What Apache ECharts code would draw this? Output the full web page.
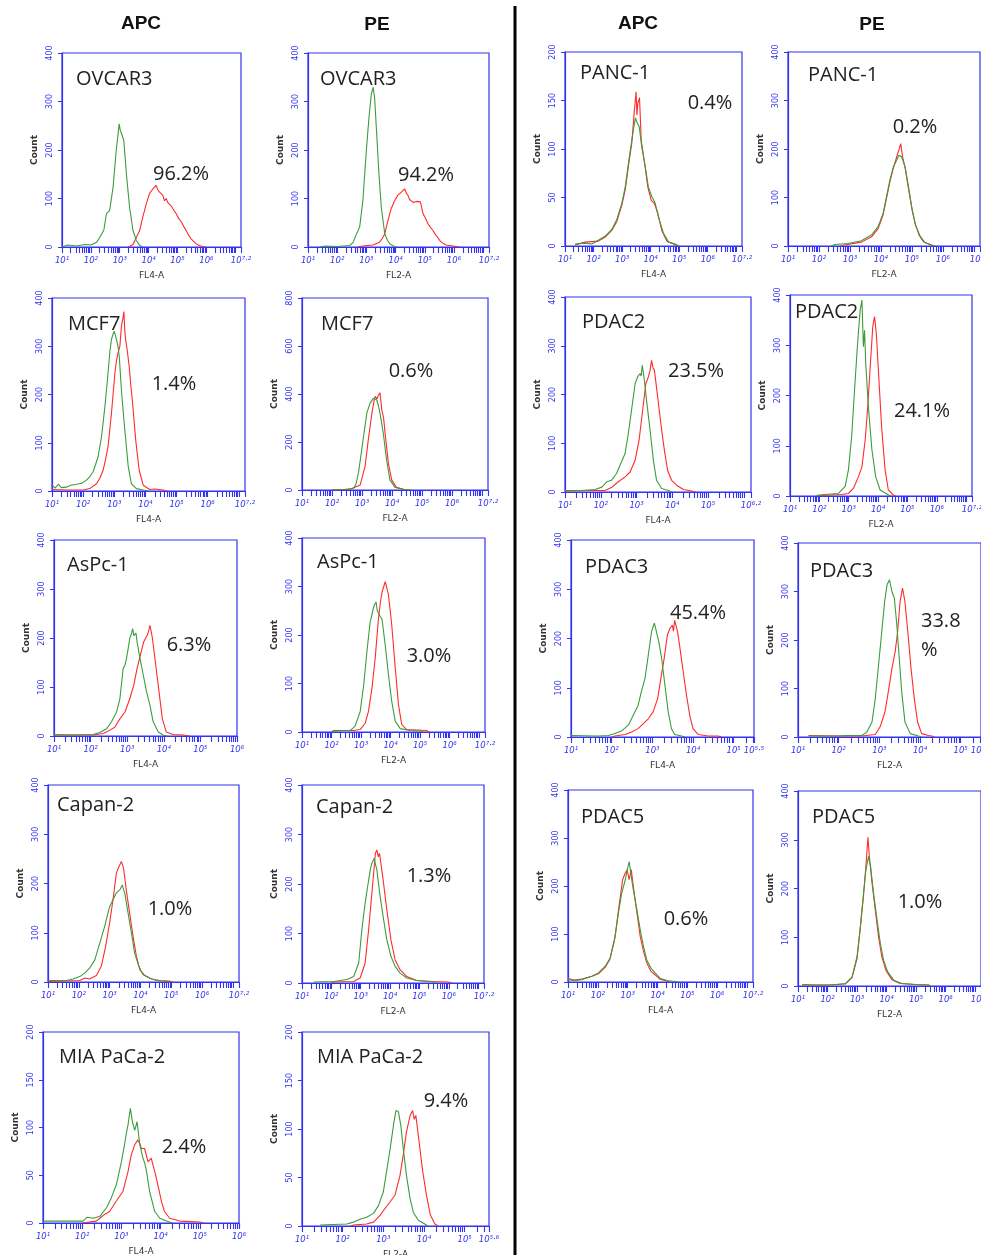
<!DOCTYPE html>
<html>
<head>
<meta charset="utf-8">
<script src="https://cdn.jsdelivr.net/npm/echarts@6/dist/echarts.min.js"></script>
<style>
html,body{margin:0;padding:0;background:#fff;}
#chart{width:981px;height:1255px;}
</style>
</head>
<body>
<div id="chart"></div>
<script>
// ---------------- DATA (x = log10 fluorescence, y = count) ----------------
const ovcar3ApcGreen = [[1.0,0],[1.2,4],[1.5,2],[1.8,5],[2.0,4],[2.2,10],[2.31,20],[2.45,35],[2.54,69],[2.65,75],[2.77,124],[2.88,200],[2.98,254],[3.02,240],[3.06,234],[3.14,220],[3.23,151],[3.34,82],[3.46,34],[3.57,14],[3.69,3],[3.8,0]];
const ovcar3ApcRed = [[3.3,0],[3.46,5],[3.57,19],[3.69,34],[3.8,62],[3.92,89],[4.03,110],[4.15,120],[4.2,116],[4.26,127],[4.32,118],[4.38,113],[4.44,110],[4.49,107],[4.55,95],[4.61,100],[4.66,92],[4.72,96],[4.78,85],[4.84,79],[4.95,69],[5.05,58],[5.13,52],[5.22,42],[5.3,34],[5.38,25],[5.47,17],[5.55,12],[5.64,7],[5.75,3],[5.87,1],[6.0,0]];
const ovcar3PeGreen = [[1.4,0],[1.6,2],[2.0,1],[2.43,3],[2.55,10],[2.66,27],[2.77,41],[2.88,96],[3.0,200],[3.09,268],[3.17,316],[3.23,329],[3.28,309],[3.34,247],[3.43,151],[3.51,82],[3.63,27],[3.72,14],[3.8,7],[3.92,2],[4.03,0]];
const ovcar3PeRed = [[2.7,0],[2.88,2],[3.23,4],[3.45,10],[3.55,18],[3.63,27],[3.74,55],[3.85,79],[3.97,96],[4.08,107],[4.14,104],[4.2,113],[4.26,110],[4.31,120],[4.36,112],[4.42,107],[4.48,98],[4.54,100],[4.6,92],[4.65,89],[4.71,94],[4.77,96],[4.85,93],[4.94,69],[5.02,60],[5.11,48],[5.2,40],[5.28,34],[5.36,26],[5.45,19],[5.53,12],[5.62,8],[5.73,4],[5.85,3],[6.08,1],[6.2,0]];

const mcf7ApcGreen = [[1.0,12],[1.1,6],[1.2,14],[1.3,7],[1.46,8],[1.6,12],[1.78,14],[1.95,16],[2.1,22],[2.22,30],[2.32,40],[2.4,55],[2.48,71],[2.59,112],[2.7,175],[2.8,244],[2.86,290],[2.91,314],[2.96,325],[3.0,331],[3.04,322],[3.07,318],[3.12,300],[3.16,279],[3.23,210],[3.28,170],[3.34,126],[3.4,85],[3.45,50],[3.55,15],[3.71,5],[3.93,2],[4.1,0]];
const mcf7ApcRed = [[1.0,3],[1.5,2],[2.0,2],[2.21,5],[2.43,15],[2.55,28],[2.64,43],[2.72,65],[2.8,92],[2.91,161],[3.02,244],[3.07,270],[3.12,286],[3.18,300],[3.23,341],[3.27,355],[3.31,372],[3.34,330],[3.37,312],[3.42,290],[3.48,258],[3.53,220],[3.59,182],[3.69,105],[3.8,43],[3.93,12],[4.14,3],[4.3,4],[4.57,2],[4.7,0]];
const mcf7PeGreen = [[2.0,0],[2.05,3],[2.4,2],[2.72,7],[2.8,25],[2.88,70],[2.96,140],[3.05,222],[3.16,320],[3.27,362],[3.33,370],[3.38,382],[3.44,375],[3.49,376],[3.55,350],[3.6,320],[3.71,236],[3.82,125],[3.93,42],[4.1,11],[4.38,3],[4.65,0]];
const mcf7PeRed = [[2.0,0],[2.05,2],[2.6,3],[2.94,21],[3.1,97],[3.21,209],[3.33,320],[3.4,370],[3.44,390],[3.5,380],[3.55,396],[3.6,405],[3.66,334],[3.72,300],[3.77,236],[3.88,111],[3.99,42],[4.15,11],[4.38,3],[4.55,0]];

const aspc1ApcGreen = [[1.0,3],[1.5,2],[2.07,3],[2.25,7],[2.44,15],[2.57,29],[2.71,49],[2.8,76],[2.85,110],[2.89,138],[2.94,145],[2.98,158],[3.03,180],[3.07,199],[3.12,210],[3.15,219],[3.18,205],[3.21,202],[3.24,210],[3.27,192],[3.35,158],[3.44,124],[3.53,90],[3.62,63],[3.71,29],[3.85,8],[3.98,2],[4.1,0]];
const aspc1ApcRed = [[1.0,2],[1.8,2],[2.07,2],[2.35,5],[2.53,12],[2.66,18],[2.8,35],[2.94,49],[3.07,76],[3.18,104],[3.27,138],[3.36,165],[3.45,192],[3.55,206],[3.59,215],[3.62,226],[3.66,212],[3.69,199],[3.78,145],[3.87,90],[3.96,35],[4.07,8],[4.25,3],[4.53,2],[4.7,0]];
const aspc1PeGreen = [[2.0,0],[2.07,2],[2.63,3],[2.8,12],[2.97,42],[3.09,97],[3.2,166],[3.31,227],[3.36,240],[3.4,251],[3.45,262],[3.51,268],[3.55,250],[3.6,247],[3.65,238],[3.71,233],[3.82,179],[3.93,118],[4.04,63],[4.16,22],[4.33,7],[4.66,3],[5.0,2],[5.1,0]];
const aspc1PeRed = [[2.0,0],[2.07,3],[2.75,3],[2.97,5],[3.14,18],[3.25,42],[3.37,90],[3.48,152],[3.59,234],[3.65,265],[3.71,288],[3.77,300],[3.82,310],[3.87,298],[3.93,282],[3.98,255],[4.04,221],[4.16,132],[4.27,56],[4.38,15],[4.55,5],[5.22,3],[5.3,0]];

const capan2ApcGreen = [[1.0,3],[1.3,3],[1.6,3],[1.81,6],[2.03,11],[2.19,18],[2.35,28],[2.52,45],[2.68,79],[2.84,113],[3.0,153],[3.11,167],[3.22,181],[3.28,178],[3.33,187],[3.41,197],[3.45,188],[3.49,181],[3.6,140],[3.71,99],[3.81,59],[3.95,32],[4.08,15],[4.3,8],[4.52,3],[4.84,1],[5.0,0]];
const capan2ApcRed = [[1.05,1],[1.6,2],[2.03,3],[2.2,8],[2.35,6],[2.57,13],[2.73,32],[2.87,72],[3.0,120],[3.11,167],[3.22,221],[3.3,234],[3.35,240],[3.38,245],[3.42,238],[3.46,228],[3.54,187],[3.65,140],[3.76,93],[3.87,52],[3.98,25],[4.14,13],[4.36,6],[4.63,3],[4.95,2],[5.05,0]];
const capan2PeGreen = [[1.4,2],[2.08,3],[2.53,7],[2.76,13],[2.93,40],[3.04,108],[3.15,161],[3.27,208],[3.33,230],[3.38,242],[3.46,252],[3.5,240],[3.55,229],[3.66,175],[3.78,128],[3.89,87],[4.03,54],[4.17,34],[4.34,20],[4.57,10],[4.91,5],[5.48,2],[5.6,0]];
const capan2PeRed = [[2.0,0],[2.08,2],[2.76,3],[2.98,10],[3.15,40],[3.27,108],[3.38,181],[3.46,235],[3.5,262],[3.55,269],[3.6,255],[3.64,262],[3.75,215],[3.89,148],[4.03,87],[4.17,47],[4.34,27],[4.57,13],[4.91,5],[5.48,3],[5.99,2],[6.1,0]];

const miaApcGreen = [[1.0,2],[1.5,2],[2.02,2],[2.12,6],[2.28,5],[2.45,7],[2.62,16],[2.74,26],[2.87,40],[3.0,64],[3.08,82],[3.13,95],[3.17,103],[3.2,112],[3.23,120],[3.28,106],[3.34,97],[3.4,106],[3.47,82],[3.55,68],[3.6,62],[3.64,54],[3.72,33],[3.85,12],[3.98,5],[4.15,2],[4.3,0]];
const miaApcRed = [[2.0,0],[2.02,1],[2.36,2],[2.45,5],[2.57,9],[2.7,12],[2.87,23],[3.04,33],[3.17,54],[3.25,71],[3.34,82],[3.38,80],[3.42,87],[3.47,83],[3.51,78],[3.59,78],[3.68,64],[3.76,68],[3.85,54],[3.93,40],[4.02,23],[4.1,12],[4.23,5],[4.49,2],[5.0,1],[5.1,0]];
const miaPeGreen = [[1.45,1],[2.1,2],[2.27,4],[2.43,7],[2.59,9],[2.76,13],[2.88,21],[3.0,35],[3.08,56],[3.17,80],[3.25,104],[3.31,119],[3.37,118],[3.43,104],[3.49,80],[3.57,52],[3.66,28],[3.74,14],[3.86,6],[4.02,2],[4.1,0]];
const miaPeRed = [[2.2,0],[2.27,1],[2.59,2],[2.76,4],[2.92,11],[3.04,18],[3.17,25],[3.29,32],[3.41,52],[3.49,73],[3.57,97],[3.66,114],[3.72,119],[3.76,110],[3.8,114],[3.88,87],[3.97,56],[4.06,32],[4.16,11],[4.27,2],[4.35,0]];

const panc1ApcGreen = [[1.35,2],[1.7,3],[1.94,2],[2.17,6],[2.4,10],[2.64,17],[2.81,27],[2.99,44],[3.11,61],[3.22,85],[3.34,109],[3.43,126],[3.47,132],[3.51,128],[3.56,130],[3.6,123],[3.69,102],[3.81,82],[3.92,61],[4.04,51],[4.16,44],[4.27,30],[4.45,13],[4.63,4],[4.86,2],[5.0,0]];
const panc1ApcRed = [[1.35,1],[1.7,4],[2.17,5],[2.4,9],[2.64,16],[2.81,25],[2.99,42],[3.11,58],[3.22,82],[3.34,106],[3.43,140],[3.49,159],[3.52,135],[3.55,147],[3.61,153],[3.67,109],[3.79,85],[3.9,61],[4.02,47],[4.13,44],[4.25,34],[4.39,16],[4.57,5],[4.8,2],[4.95,0]];
const panc1PeGreen = [[2.4,0],[2.51,3],[2.94,5],[3.37,11],[3.7,23],[3.91,40],[4.07,67],[4.18,102],[4.29,136],[4.4,163],[4.51,177],[4.58,187],[4.67,184],[4.78,163],[4.88,122],[4.99,81],[5.1,47],[5.23,23],[5.37,9],[5.58,3],[5.7,0]];
const panc1PeRed = [[2.7,0],[2.83,2],[3.37,8],[3.7,19],[3.91,36],[4.07,64],[4.18,98],[4.29,132],[4.4,160],[4.51,184],[4.58,198],[4.64,211],[4.7,184],[4.8,156],[4.91,115],[5.01,74],[5.12,43],[5.26,21],[5.42,7],[5.64,2],[5.75,0]];

const pdac2ApcGreen = [[1.0,3],[1.47,3],[1.84,5],[2.03,10],[2.17,21],[2.3,24],[2.44,38],[2.58,62],[2.68,79],[2.77,120],[2.86,168],[2.96,222],[3.03,236],[3.1,243],[3.13,238],[3.16,260],[3.22,229],[3.28,188],[3.38,126],[3.47,65],[3.56,24],[3.7,7],[3.89,3],[4.0,0]];
const pdac2ApcRed = [[1.0,2],[1.75,3],[2.12,3],[2.3,9],[2.49,21],[2.68,31],[2.82,41],[2.96,65],[3.07,106],[3.16,161],[3.26,222],[3.33,236],[3.38,250],[3.42,270],[3.46,255],[3.5,250],[3.59,195],[3.68,140],[3.78,85],[3.87,44],[3.98,24],[4.12,14],[4.31,5],[4.54,2],[4.65,0]];
const pdac2PeGreen = [[1.9,0],[1.97,2],[2.65,5],[2.88,19],[2.99,52],[3.1,118],[3.22,231],[3.31,310],[3.39,370],[3.45,390],[3.5,297],[3.54,330],[3.58,264],[3.67,178],[3.79,92],[3.92,38],[4.07,12],[4.36,2],[4.45,0]];
const pdac2PeRed = [[2.0,0],[2.08,1],[2.76,3],[2.99,5],[3.16,15],[3.33,38],[3.45,58],[3.56,111],[3.65,178],[3.74,264],[3.82,337],[3.88,357],[3.94,324],[4.03,231],[4.12,138],[4.24,52],[4.35,12],[4.52,2],[4.6,0]];

const pdac3ApcGreen = [[1.0,3],[1.67,2],[1.92,3],[2.08,7],[2.24,12],[2.41,24],[2.53,44],[2.65,64],[2.73,92],[2.82,119],[2.9,166],[2.98,214],[3.05,231],[3.1,214],[3.16,193],[3.23,159],[3.31,105],[3.39,51],[3.47,17],[3.55,5],[3.72,2],[3.8,0]];
const pdac3ApcRed = [[2.0,0],[2.08,2],[2.33,5],[2.49,10],[2.65,17],[2.78,27],[2.9,37],[3.02,51],[3.13,78],[3.21,119],[3.29,159],[3.37,207],[3.43,220],[3.49,227],[3.52,215],[3.55,237],[3.62,214],[3.67,186],[3.76,132],[3.84,85],[3.92,44],[4.0,17],[4.13,5],[4.37,2],[4.62,2],[4.7,0]];
const pdac3PeGreen = [[1.26,2],[1.92,2],[2.24,3],[2.57,3],[2.69,10],[2.82,31],[2.9,79],[2.98,148],[3.06,217],[3.13,279],[3.19,314],[3.25,324],[3.31,300],[3.37,286],[3.43,231],[3.49,162],[3.55,93],[3.63,31],[3.76,7],[3.96,2],[4.05,0]];
const pdac3PeRed = [[1.26,3],[1.92,2],[2.57,2],[2.9,5],[3.02,21],[3.14,52],[3.22,93],[3.31,141],[3.39,176],[3.45,217],[3.51,279],[3.57,307],[3.63,279],[3.7,217],[3.78,141],[3.86,79],[3.94,31],[4.04,7],[4.21,3],[4.29,2],[4.35,0]];

const pdac5ApcGreen = [[1.0,5],[1.2,3],[1.47,5],[1.8,12],[2.02,19],[2.25,33],[2.41,50],[2.56,88],[2.69,144],[2.8,185],[2.92,213],[2.99,234],[3.05,251],[3.12,220],[3.19,192],[3.31,150],[3.42,109],[3.53,74],[3.64,46],[3.78,29],[3.92,19],[4.08,8],[4.31,3],[4.59,1],[4.7,0]];
const pdac5ApcRed = [[1.0,7],[1.2,4],[1.47,6],[1.8,12],[2.02,17],[2.25,31],[2.41,48],[2.58,95],[2.71,158],[2.83,213],[2.92,227],[2.98,234],[3.05,213],[3.12,234],[3.19,199],[3.31,144],[3.42,95],[3.53,64],[3.64,40],[3.78,22],[3.92,15],[4.08,6],[4.31,2],[4.4,0]];
const pdac5PeGreen = [[1.14,3],[1.6,2],[2.15,2],[2.6,5],[2.83,18],[3.0,60],[3.11,121],[3.22,190],[3.3,238],[3.39,266],[3.46,245],[3.56,190],[3.68,135],[3.79,87],[3.9,53],[4.04,29],[4.24,12],[4.52,5],[4.97,3],[5.42,2],[5.5,0]];
const pdac5PeRed = [[1.14,2],[2.0,2],[2.6,4],[2.83,17],[3.0,56],[3.11,118],[3.22,186],[3.3,245],[3.37,305],[3.42,264],[3.5,216],[3.62,155],[3.73,100],[3.84,60],[3.98,32],[4.18,13],[4.46,5],[4.97,3],[5.42,2],[5.5,0]];

// tick label exponents
const ticks72 = [1,2,3,4,5,6,7.2];
const ticks6  = [1,2,3,4,5,6];
const ticks62 = [1,2,3,4,5,6.2];
const ticks56 = [1,2,3,4,5,5.6];
const ticks55 = [1,2,3,4,5,5.5];

const cellNames = ['OVCAR3','OVCAR3','MCF7','MCF7','AsPc-1','AsPc-1','Capan-2','Capan-2','MIA PaCa-2','MIA PaCa-2',
  'PANC-1','PANC-1','PDAC2','PDAC2','PDAC3','PDAC3','PDAC5','PDAC5'];
const percents = ['96.2%','94.2%','1.4%','0.6%','6.3%','3.0%','1.0%','1.3%','2.4%','9.4%',
  '0.4%','0.2%','23.5%','24.1%','45.4%','33.8\n%','0.6%','1.0%'];
const yMaxes = [400,400,400,800,400,400,400,400,200,200, 200,400,400,400,400,400,400,400];
const xTickSets = [ticks72,ticks72,ticks72,ticks72,ticks6,ticks72,ticks72,ticks72,ticks6,ticks56,
  ticks72,ticks72,ticks62,ticks72,ticks55,ticks55,ticks72,ticks72];
const greens = [ovcar3ApcGreen,ovcar3PeGreen,mcf7ApcGreen,mcf7PeGreen,aspc1ApcGreen,aspc1PeGreen,capan2ApcGreen,capan2PeGreen,miaApcGreen,miaPeGreen,
  panc1ApcGreen,panc1PeGreen,pdac2ApcGreen,pdac2PeGreen,pdac3ApcGreen,pdac3PeGreen,pdac5ApcGreen,pdac5PeGreen];
const reds = [ovcar3ApcRed,ovcar3PeRed,mcf7ApcRed,mcf7PeRed,aspc1ApcRed,aspc1PeRed,capan2ApcRed,capan2PeRed,miaApcRed,miaPeRed,
  panc1ApcRed,panc1PeRed,pdac2ApcRed,pdac2PeRed,pdac3ApcRed,pdac3PeRed,pdac5ApcRed,pdac5PeRed];

// ---------------- LAYOUT ----------------
// plot box [left, top, right, bottom], name label pos [x,y], percent label pos [x,y]
const layout = [
  {box:[62,53,241,247],   nm:[76,79],   pc:[181,174]},
  {box:[308,53,489,247],  nm:[320,79],  pc:[426,175]},
  {box:[52,298,245,491],  nm:[68,324],  pc:[174,384]},
  {box:[302,298,488,490], nm:[321,324], pc:[411,371]},
  {box:[54,540,237,736],  nm:[67,565],  pc:[189,645]},
  {box:[302,538,485,732], nm:[317,562], pc:[429,656]},
  {box:[48,785,239,982],  nm:[57,805],  pc:[170,909]},
  {box:[302,785,484,983], nm:[316,807], pc:[429,876]},
  {box:[43,1032,239,1223],nm:[59,1057], pc:[184,1147]},
  {box:[302,1032,489,1226],nm:[317,1057],pc:[446,1101]},
  {box:[565,52,742,246],  nm:[580,73],  pc:[710,103]},
  {box:[788,52,980,246],  nm:[808,75],  pc:[915,127]},
  {box:[565,297,751,492], nm:[582,322], pc:[696,371]},
  {box:[790,295,972,496], nm:[795,312], pc:[922,411]},
  {box:[571,540,754,737], nm:[585,567], pc:[698,613]},
  {box:[798,543,981,737], nm:[810,571], pc:[921,636]},
  {box:[568,790,753,982], nm:[581,817], pc:[686,919]},
  {box:[798,791,981,986], nm:[812,817], pc:[920,902]}
];

const BLUE = '#3333f2';
const GREEN = '#3c9c3c';
const RED = '#ff2b2b';
const SUP = {'0':'⁰','1':'¹','2':'²','3':'³','4':'⁴','5':'⁵','6':'⁶','7':'⁷','8':'⁸','9':'⁹','.':'·'};
function expLabel(v){
  const s = String(Math.round(v*10)/10);
  return '10' + s.split('').map(c => SUP[c] || c).join('');
}
function minorTicks(maxE){
  const out = [];
  for (let n = 1; n <= Math.ceil(maxE); n++){
    for (let k = 1; k <= 9; k++){
      const v = n + Math.log10(k);
      if (v <= maxE + 1e-9) out.push(v);
    }
  }
  out.push(maxE);
  return out;
}

const grids = [], xAxes = [], yAxes = [], series = [], graphics = [];
layout.forEach((p, i) => {
  const [l,t,r,b] = p.box;
  const ticks = xTickSets[i];
  const xMax = ticks[ticks.length-1];
  const yMax = yMaxes[i];
  const isPE = (i % 2 === 1);
  grids.push({left:l, top:t, width:r-l, height:b-t, containLabel:false, outerBoundsMode:'none',
    show:true, borderColor:BLUE, borderWidth:1.2, backgroundColor:'rgba(0,0,0,0)'});
  xAxes.push({
    gridIndex:i, type:'value', min:1, max:xMax,
    axisLine:{show:true, onZero:false, lineStyle:{color:BLUE, width:1.2}},
    axisTick:{show:true, customValues:minorTicks(xMax), length:6, inside:false, lineStyle:{color:BLUE, width:1.1}},
    axisLabel:{customValues:ticks, formatter:expLabel, color:BLUE, fontSize:8.5, margin:9, fontFamily:'DejaVu Sans', fontStyle:'italic'},
    splitLine:{show:false},
    name: isPE ? 'FL2-A' : 'FL4-A', nameLocation:'middle', nameGap:24,
    nameTextStyle:{fontSize:9, color:'#333', fontFamily:'DejaVu Sans'}
  });
  yAxes.push({
    gridIndex:i, type:'value', min:0, max:yMax, interval:yMax/4,
    axisLine:{show:true, lineStyle:{color:BLUE, width:1.2}},
    axisTick:{show:true, length:4, lineStyle:{color:BLUE}},
    axisLabel:{rotate:90, color:BLUE, fontSize:8, margin:8, fontFamily:'DejaVu Sans'},
    splitLine:{show:false},
    name:'Count', nameLocation:'middle', nameRotate:90, nameGap:23,
    nameTextStyle:{fontSize:9, color:'#333', fontWeight:'bold', fontFamily:'DejaVu Sans'}
  });
  series.push({type:'line', xAxisIndex:i, yAxisIndex:i, data:reds[i], showSymbol:false, symbol:'none',
    lineStyle:{color:RED, width:1.1}, z:3, clip:true});
  series.push({type:'line', xAxisIndex:i, yAxisIndex:i, data:greens[i], showSymbol:false, symbol:'none',
    lineStyle:{color:GREEN, width:1.1}, z:4, clip:true});
  graphics.push({type:'text', x:p.nm[0], y:p.nm[1], z:10,
    style:{text:cellNames[i], fontSize:20, fontFamily:'Open Sans', fill:'#222', align:'left', verticalAlign:'middle'}});
  graphics.push({type:'text', x:p.pc[0], y:p.pc[1], z:10,
    style:{text:percents[i], fontSize:20, fontFamily:'Open Sans', fill:'#222', align: percents[i].indexOf('\n')>=0 ? 'left':'center',
      verticalAlign:'middle', lineHeight:29}});
});

// column headers
const headers = [['APC',141,24],['PE',377,25],['APC',638,24],['PE',872,25]];
headers.forEach(h => graphics.push({type:'text', x:h[1], y:h[2], z:10,
  style:{text:h[0], fontSize:19, fontWeight:'bold', fontFamily:'Liberation Sans', fill:'#111', align:'center', verticalAlign:'middle'}}));
// divider
graphics.push({type:'line', z:10, shape:{x1:515, y1:6, x2:515, y2:1255}, style:{stroke:'#000', lineWidth:3}});

const chart = echarts.init(document.getElementById('chart'), null, {renderer:'canvas'});
chart.setOption({
  animation:false,
  backgroundColor:'#fff',
  grid:grids, xAxis:xAxes, yAxis:yAxes, series:series, graphic:graphics
});
</script>
</body>
</html>
